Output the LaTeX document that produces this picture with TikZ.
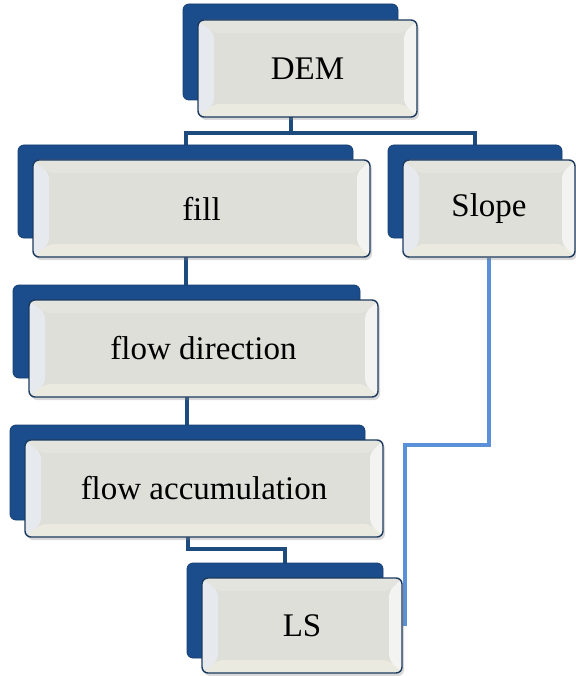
\documentclass[tikz,border=0pt]{standalone}
\usepackage{fontspec}
\setmainfont{Liberation Serif}
\usetikzlibrary{positioning,calc,backgrounds,shadows}

\definecolor{navyline}{HTML}{1D3A5F}
\definecolor{backblue}{HTML}{1B4D8C}
\definecolor{boxgray}{HTML}{DEDFD9}
\definecolor{bevelL}{HTML}{E6E9EE}
\definecolor{bevelB}{HTML}{EBEAE1}
\definecolor{bevelR}{HTML}{F3F3F1}
\definecolor{bevelT}{HTML}{E4E4DF}
\definecolor{darklink}{HTML}{1E4B7E}
\definecolor{lightlink}{HTML}{5A91D8}

\tikzset{
  backbox/.style={draw=backblue!80!black, line width=0.8pt, fill=backblue,
    rounded corners=6pt, inner sep=0pt},
  frontbox/.style={draw=navyline, line width=1.4pt, fill=boxgray,
    rounded corners=6pt, inner sep=0pt,
    font=\fontsize{33}{37}\selectfont,
    drop shadow={opacity=0.3, shadow xshift=2pt, shadow yshift=-3pt},
    path picture={
      \coordinate (pa) at (path picture bounding box.south west);
      \coordinate (pb) at (path picture bounding box.north east);
      \fill[bevelL] (pa) -- ($(pa)+(16pt,13pt)$) -- ($(pa |- pb)+(16pt,-13pt)$) -- (pa |- pb) -- cycle;
      \fill[bevelB] (pa) -- (pa -| pb) -- ($(pa -| pb)+(-13pt,13pt)$) -- ($(pa)+(16pt,13pt)$) -- cycle;
      \fill[bevelR] (pa -| pb) -- (pb) -- ($(pb)+(-13pt,-13pt)$) -- ($(pa -| pb)+(-13pt,13pt)$) -- cycle;
      \fill[bevelT] (pb) -- (pa |- pb) -- ($(pa |- pb)+(16pt,-13pt)$) -- ($(pb)+(-13pt,-13pt)$) -- cycle;
    }},
  link/.style={draw=darklink, line width=4pt},
  lightlk/.style={draw=lightlink, line width=3.5pt}
}

\begin{document}
\begin{tikzpicture}[x=1pt, y=-1pt]
    \useasboundingbox (0,0) rectangle (575,676);

    %% back plates
    \node[backbox, minimum width=215pt, minimum height=96pt] (demb) at (290.5,52) {};
    \node[backbox, minimum width=335pt, minimum height=93pt] (fillb) at (185.5,191.5) {};
    \node[backbox, minimum width=174pt, minimum height=93pt] (slopeb) at (475,191.5) {};
    \node[backbox, minimum width=347pt, minimum height=93pt] (flowdirb) at (186.5,331.5) {};
    \node[backbox, minimum width=355pt, minimum height=95pt] (flowaccb) at (187.5,472.5) {};
    \node[backbox, minimum width=196pt, minimum height=95pt] (lsb) at (285,610.5) {};

    %% front boxes
    \node[frontbox, minimum width=219pt, minimum height=97pt] (dem) at (307.5,68.5) {DEM};
    \node[frontbox, minimum width=337pt, minimum height=97pt] (fill) at (201.5,208.5) {fill};
    \node[frontbox, minimum width=172pt, minimum height=97pt] (slope) at (489,208.5) {Slope};
    \node[frontbox, minimum width=349pt, minimum height=97pt] (flowdir) at (203.5,348.5) {flow direction};
    \node[frontbox, minimum width=358pt, minimum height=97pt] (flowacc) at (204,488.5) {flow accumulation};
    \node[frontbox, minimum width=200pt, minimum height=95pt] (ls) at (302,625.5) {LS};

    \coordinate (split) at (290.5,133);
    \coordinate (accls) at (240,549);
    \coordinate (slopebend) at (405,445);

    \begin{scope}[on background layer]
        \draw[link] (demb.south) -- (split) -| (fillb.north);
        \draw[link] (split) -| (slopeb.north);
        \draw[link] (fillb.south) -- (fillb.south |- flowdirb.north);
        \draw[link] (flowdirb.south) -- (flowdirb.south |- flowaccb.north);
        \draw[link] (flowaccb.south) |- (accls) -| (lsb.north);
        \draw[lightlk] (slope.south) |- (slopebend) -- (slopebend |- ls.east);
    \end{scope}
\end{tikzpicture}
\end{document}
